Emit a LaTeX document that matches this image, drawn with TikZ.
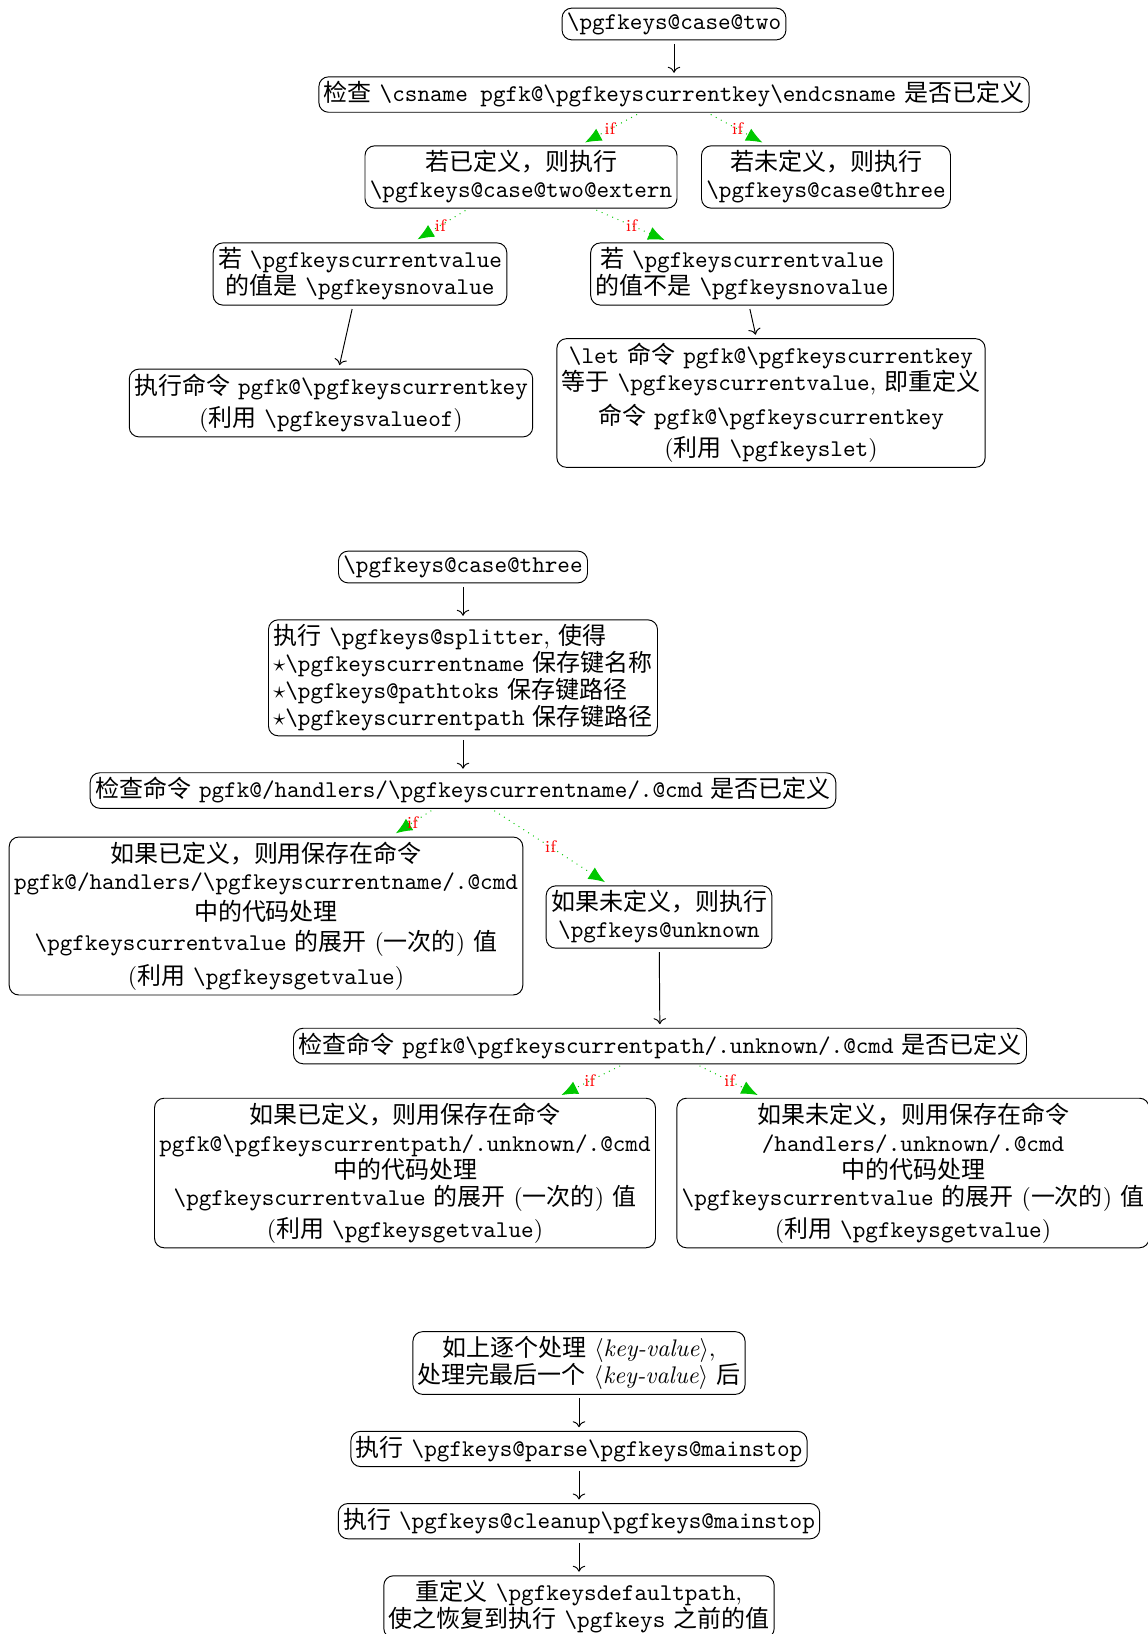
\documentclass[tikz,border=0pt]{standalone}
\usepackage{fontspec}
\usepackage{tikz}
\usetikzlibrary{arrows.meta,positioning}
\newfontfamily\zhfont{Noto Sans CJK SC}
\newcommand{\zh}[1]{{\zhfont #1}}
\newcommand{\tcs}[1]{\texttt{\textbackslash #1}}
\definecolor{ifgreen}{RGB}{0,200,0}
\definecolor{ifred}{RGB}{255,0,0}
\tikzset{
  flow/.style={->,shorten <=1.5pt,shorten >=1.5pt},
  ifflow/.style={-{Latex[length=2.4mm,width=2mm]},dotted,draw=ifgreen,shorten <=1.5pt,shorten >=2.5pt},
  iflabel/.style={font=\scriptsize,text=ifred,inner sep=1pt},
  box/.style={rounded corners=4pt,draw,align=center,inner sep=2pt,
    font=\fontsize{10pt}{11.2pt}\selectfont}
}
\begin{document}
\begin{tikzpicture}[x=0.41667pt,y=-0.41667pt,node distance=15pt]
  \useasboundingbox (0,0) rectangle (1148,1634);
  % case two
  \node[box] (twocase) at (674,24) {\tcs{pgfkeys@case@two}};
  \node[box,below=of twocase] (cschk) {\zh{检查} \texttt{\textbackslash csname pgfk@\textbackslash pgfkeyscurrentkey\textbackslash endcsname} \zh{是否已定义}};
  \node[box] (defd) at (521,177) {\zh{若已定义，则执行}\\\tcs{pgfkeys@case@two@extern}};
  \node[box] (undefd) at (826,177) {\zh{若未定义，则执行}\\\tcs{pgfkeys@case@three}};
  \node[box] (isnov) at (360,274) {\zh{若} \tcs{pgfkeyscurrentvalue}\\\zh{的值是} \tcs{pgfkeysnovalue}};
  \node[box] (notnov) at (742,274) {\zh{若} \tcs{pgfkeyscurrentvalue}\\\zh{的值不是} \tcs{pgfkeysnovalue}};
  \node[box] (valueof) at (331,403) {\zh{执行命令} \texttt{pgfk@\textbackslash pgfkeyscurrentkey}\\[2pt](\zh{利用} \tcs{pgfkeysvalueof})};
  \node[box] (letkey) at (771,403) {\tcs{let} \zh{命令} \texttt{pgfk@\textbackslash pgfkeyscurrentkey}\\\zh{等于} \tcs{pgfkeyscurrentvalue}, \zh{即重定义}\\[3pt]\zh{命令} \texttt{pgfk@\textbackslash pgfkeyscurrentkey}\\[2pt](\zh{利用} \tcs{pgfkeyslet})};
  \draw[flow] (twocase)--(cschk);
  \draw[ifflow] (cschk)-- node[iflabel]{if} (defd); \draw[ifflow] (cschk)-- node[iflabel]{if} (undefd);
  \draw[ifflow] (defd)-- node[iflabel]{if} (isnov); \draw[ifflow] (defd)-- node[iflabel]{if} (notnov);
  \draw[flow] (isnov)--(valueof); \draw[flow] (notnov)--(letkey);
  % case three
  \node[box] (threecase) at (463,567) {\tcs{pgfkeys@case@three}};
  \node[box,align=left,below=of threecase] (split) {\zh{执行} \tcs{pgfkeys@splitter}, \zh{使得}\\$\star$\tcs{pgfkeyscurrentname} \zh{保存键名称}\\$\star$\tcs{pgfkeys@pathtoks} \zh{保存键路径}\\$\star$\tcs{pgfkeyscurrentpath} \zh{保存键路径}};
  \node[box,below=of split] (hchk) {\zh{检查命令} \texttt{pgfk@/handlers/\textbackslash pgfkeyscurrentname/.@cmd} \zh{是否已定义}};
  \node[box] (hdef) at (266,916) {\zh{如果已定义，则用保存在命令}\\\texttt{pgfk@/handlers/\textbackslash pgfkeyscurrentname/.@cmd}\\[2pt]\zh{中的代码处理}\\[1pt]\tcs{pgfkeyscurrentvalue} \zh{的展开} (\zh{一次的}) \zh{值}\\[3pt](\zh{利用} \tcs{pgfkeysgetvalue})};
  \node[box] (hundef) at (659,917) {\zh{如果未定义，则执行}\\\tcs{pgfkeys@unknown}};
  \node[box] (uchk) at (660,1046) {\zh{检查命令} \texttt{pgfk@\textbackslash pgfkeyscurrentpath/.unknown/.@cmd} \zh{是否已定义}};
  \node[box] (udef) at (405,1173) {\zh{如果已定义，则用保存在命令}\\[0.5pt]\texttt{pgfk@\textbackslash pgfkeyscurrentpath/.unknown/.@cmd}\\\zh{中的代码处理}\\\tcs{pgfkeyscurrentvalue} \zh{的展开} (\zh{一次的}) \zh{值}\\[2pt](\zh{利用} \tcs{pgfkeysgetvalue})};
  \node[box] (uundef) at (913,1173) {\zh{如果未定义，则用保存在命令}\\[0.5pt]\texttt{/handlers/.unknown/.@cmd}\\\zh{中的代码处理}\\\tcs{pgfkeyscurrentvalue} \zh{的展开} (\zh{一次的}) \zh{值}\\[2pt](\zh{利用} \tcs{pgfkeysgetvalue})};
  \draw[flow] (threecase)--(split); \draw[flow] (split)--(hchk);
  \draw[ifflow] (hchk)-- node[iflabel]{if} (hdef); \draw[ifflow] (hchk)-- node[iflabel]{if} (hundef);
  \draw[flow] (hundef)--(uchk);
  \draw[ifflow] (uchk)-- node[iflabel]{if} (udef); \draw[ifflow] (uchk)-- node[iflabel]{if} (uundef);
  % after the last pair
  \node[box] (each) at (579,1363) {\zh{如上逐个处理} $\langle$\textit{key-value}$\rangle$,\\\zh{处理完最后一个} $\langle$\textit{key-value}$\rangle$ \zh{后}};
  \node[box,below=of each] (parse) {\zh{执行} \texttt{\textbackslash pgfkeys@parse\textbackslash pgfkeys@mainstop}};
  \node[box,below=of parse] (cleanup) {\zh{执行} \texttt{\textbackslash pgfkeys@cleanup\textbackslash pgfkeys@mainstop}};
  \node[box,below=of cleanup] (restore) {\zh{重定义} \tcs{pgfkeysdefaultpath},\\\zh{使之恢复到执行} \tcs{pgfkeys} \zh{之前的值}};
  \draw[flow] (each)--(parse); \draw[flow] (parse)--(cleanup); \draw[flow] (cleanup)--(restore);
\end{tikzpicture}
\end{document}
